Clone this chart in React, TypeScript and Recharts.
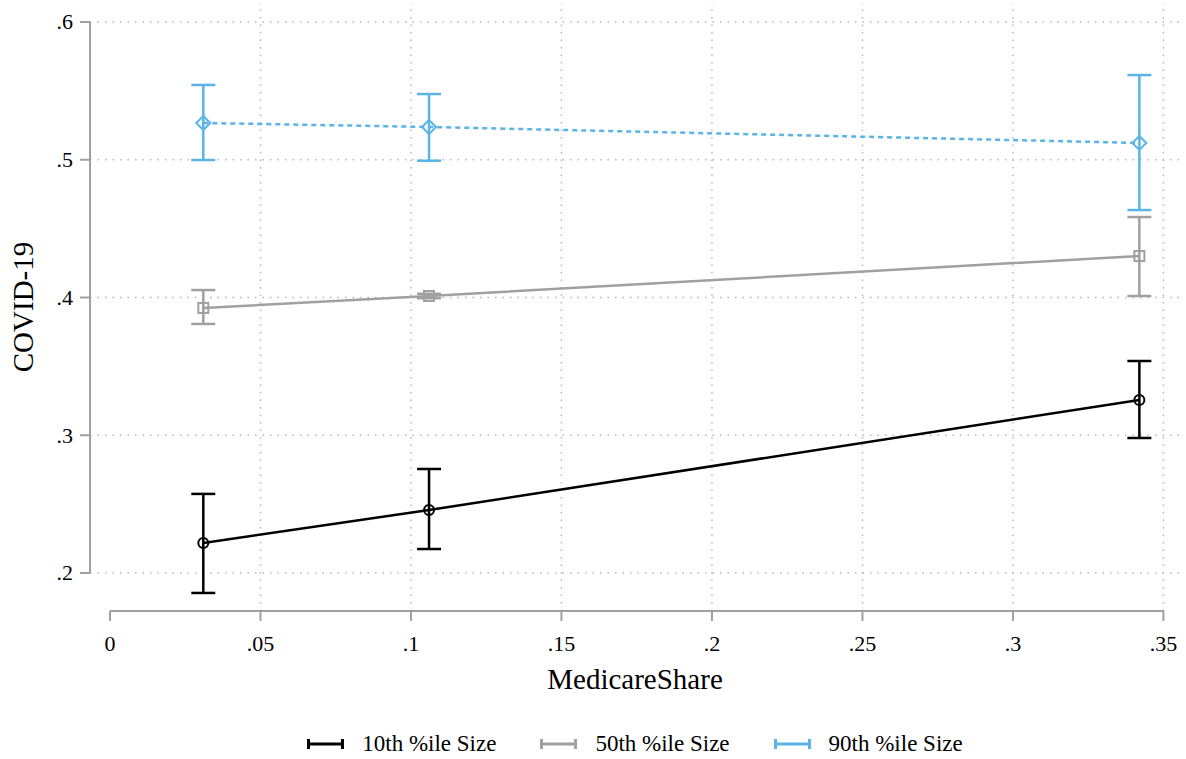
import { LineChart, Line, XAxis, YAxis, ErrorBar, ReferenceLine, Legend } from "recharts";

// Margins plot: predicted COVID-19 share at three MedicareShare values,
// split by facility size percentile.
const medicareShare = [0.031, 0.106, 0.342];

const p10Mean = [0.2218, 0.2457, 0.3256];
const p10Lower = [0.1855, 0.2174, 0.298];
const p10Upper = [0.2574, 0.2755, 0.3539];

const p50Mean = [0.3924, 0.4011, 0.4301];
const p50Lower = [0.3808, 0.3995, 0.4011];
const p50Upper = [0.4054, 0.4027, 0.4584];

const p90Mean = [0.5267, 0.5238, 0.5122];
const p90Lower = [0.4998, 0.4993, 0.4635];
const p90Upper = [0.5543, 0.5477, 0.5615];

const seriesNames = ["10th %ile Size", "50th %ile Size", "90th %ile Size"];

const xTicks = [0, 0.05, 0.1, 0.15, 0.2, 0.25, 0.3, 0.35];
const yTicks = [0.2, 0.3, 0.4, 0.5, 0.6];
const xGrid = [0.05, 0.1, 0.15, 0.2, 0.25, 0.3, 0.35];

// plot region runs a little past the tick range, like Stata
const X_DOMAIN: [number, number] = [-0.00664, 0.3555];
const Y_DOMAIN: [number, number] = [0.1724, 0.6138];

const BLACK = "#000000";
const GRAY = "#a0a0a0";
const BLUE = "#5ab4e6";
const AXIS = "#a0a0a0";
const GRID = "#b8b8b8";
const FONT = "'Liberation Serif', 'Times New Roman', serif";

// ErrorBar wants [below, above] offsets from the point
const data = medicareShare.map((x, i) => ({
  x,
  p10: p10Mean[i],
  p10Err: [p10Mean[i] - p10Lower[i], p10Upper[i] - p10Mean[i]],
  p50: p50Mean[i],
  p50Err: [p50Mean[i] - p50Lower[i], p50Upper[i] - p50Mean[i]],
  p90: p90Mean[i],
  p90Err: [p90Mean[i] - p90Lower[i], p90Upper[i] - p90Mean[i]],
}));

const stataFmt = (v: number) => (v === 0 ? "0" : String(+v.toFixed(2)).replace(/^0/, ""));

const XTick = (p: any) => (
  <text x={p.x} y={p.y} dy="0.71em" textAnchor="middle" fontFamily={FONT} fontSize={22} fill="#000">
    {stataFmt(p.payload.value)}
  </text>
);

const YTick = (p: any) => (
  <text x={p.x} y={p.y} dy="0.34em" textAnchor="end" fontFamily={FONT} fontSize={22} fill="#000">
    {stataFmt(p.payload.value)}
  </text>
);

const CircleDot = (p: any) => (
  <circle key={`c-${p.index}`} cx={p.cx} cy={p.cy} r={5} fill="none" stroke={BLACK} strokeWidth={2} />
);

const SquareDot = (p: any) => (
  <rect key={`s-${p.index}`} x={p.cx - 5} y={p.cy - 5} width={10} height={10} fill="none" stroke={GRAY} strokeWidth={2} />
);

const DiamondDot = (p: any) => (
  <polygon
    key={`d-${p.index}`}
    points={`${p.cx},${p.cy - 7} ${p.cx + 7},${p.cy} ${p.cx},${p.cy + 7} ${p.cx - 7},${p.cy}`}
    fill="none"
    stroke={BLUE}
    strokeWidth={2}
  />
);

// legend keys look like a sideways error bar
function LegendContent({ payload }: any) {
  return (
    <div style={{ display: "flex", justifyContent: "center", alignItems: "center", height: 30, fontFamily: FONT, fontSize: 23, color: "#000" }}>
      {(payload || []).map((item: any, i: number) => (
        <div key={item.value} style={{ display: "flex", alignItems: "center", marginRight: i < payload.length - 1 ? 44 : 0 }}>
          <svg width={37} height={12} style={{ marginRight: 18 }}>
            <line x1={1.5} y1={6} x2={35.5} y2={6} stroke={item.color} strokeWidth={3} />
            <line x1={1.5} y1={1} x2={1.5} y2={11} stroke={item.color} strokeWidth={3} />
            <line x1={35.5} y1={1} x2={35.5} y2={11} stroke={item.color} strokeWidth={3} />
          </svg>
          <span>{item.value}</span>
        </div>
      ))}
    </div>
  );
}

export default function App() {
  return (
    <div style={{ position: "absolute", left: 0, top: 0, background: "#fff" }}>
      <LineChart width={1186} height={759} data={data} margin={{ top: 3, right: 6, bottom: 0, left: 0 }}>
        <XAxis
          type="number"
          dataKey="x"
          domain={X_DOMAIN}
          ticks={xTicks}
          interval={0}
          axisLine={false}
          tickLine={{ stroke: AXIS, strokeWidth: 2 }}
          tickSize={10}
          tickMargin={14}
          tick={XTick}
          height={118}
          label={{ value: "MedicareShare", position: "insideBottom", offset: 40, style: { fontFamily: FONT, fontSize: 29, fill: "#000" } }}
        />
        <YAxis
          type="number"
          domain={Y_DOMAIN}
          ticks={yTicks}
          interval={0}
          axisLine={false}
          tickLine={{ stroke: AXIS, strokeWidth: 2 }}
          tickSize={10}
          tickMargin={7}
          tick={YTick}
          width={90}
          label={{ value: "COVID-19", angle: -90, position: "insideLeft", offset: 23, style: { fontFamily: FONT, fontSize: 29, fill: "#000", textAnchor: "middle" } }}
        />

        {yTicks.map((v) => (
          <ReferenceLine key={`gy-${v}`} y={v} stroke={GRID} strokeWidth={1.5} strokeDasharray="1.5 6" />
        ))}
        {xGrid.map((v) => (
          <ReferenceLine key={`gx-${v}`} x={v} stroke={GRID} strokeWidth={1.5} strokeDasharray="1.5 6" />
        ))}

        {/* axis lines only span the labelled range */}
        <ReferenceLine
          segment={[{ x: xTicks[0], y: Y_DOMAIN[0] }, { x: xTicks[xTicks.length - 1], y: Y_DOMAIN[0] }]}
          stroke={AXIS}
          strokeWidth={2}
        />
        <ReferenceLine
          segment={[{ x: X_DOMAIN[0], y: yTicks[0] }, { x: X_DOMAIN[0], y: yTicks[yTicks.length - 1] }]}
          stroke={AXIS}
          strokeWidth={2}
        />

        <Line dataKey="p10" name={seriesNames[0]} stroke={BLACK} strokeWidth={2.5} dot={CircleDot} activeDot={false} isAnimationActive={false}>
          <ErrorBar dataKey="p10Err" direction="y" width={12} stroke={BLACK} strokeWidth={2.5} isAnimationActive={false} />
        </Line>
        <Line dataKey="p50" name={seriesNames[1]} stroke={GRAY} strokeWidth={2.5} dot={SquareDot} activeDot={false} isAnimationActive={false}>
          <ErrorBar dataKey="p50Err" direction="y" width={12} stroke={GRAY} strokeWidth={2.5} isAnimationActive={false} />
        </Line>
        <Line dataKey="p90" name={seriesNames[2]} stroke={BLUE} strokeWidth={2.5} strokeDasharray="5 4" dot={DiamondDot} activeDot={false} isAnimationActive={false}>
          <ErrorBar dataKey="p90Err" direction="y" width={12} stroke={BLUE} strokeWidth={2.5} isAnimationActive={false} />
        </Line>

        <Legend verticalAlign="bottom" content={LegendContent} wrapperStyle={{ left: 90, width: 1090, bottom: 0, height: 30 }} />
      </LineChart>
    </div>
  );
}
